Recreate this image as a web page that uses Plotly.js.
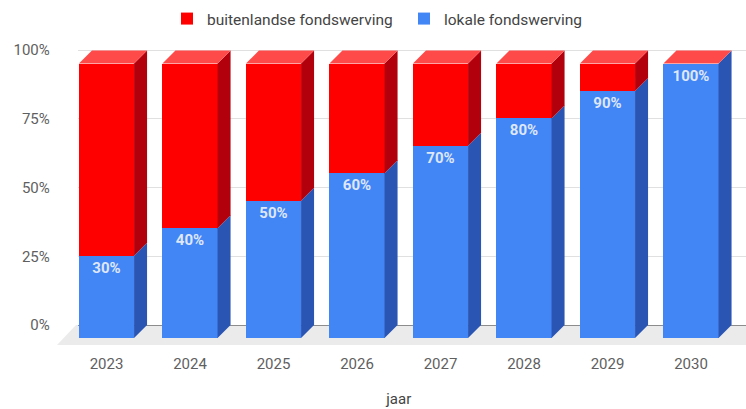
<!DOCTYPE html>
<html>
<head>
<meta charset="utf-8">
<script src="https://cdn.plot.ly/plotly-3.0.1.min.js"></script>
<style>html,body{margin:0;padding:0;background:#fff;}#chart{width:746px;height:409px;}</style>
</head>
<body>
<div id="chart"></div>
<script>
// ---- data ----
const years = ['2023', '2024', '2025', '2026', '2027', '2028', '2029', '2030'];
const lokale = [30, 40, 50, 60, 70, 80, 90, 100];
const buitenlandse = [70, 60, 50, 40, 30, 20, 10, 0];
const yTickVals = [0, 25, 50, 75, 100];
const yTickText = ['0%', '25%', '50%', '75%', '100%'];
const lokaleLabels = lokale.map(v => v + '%');
const seriesNames = ['lokale fondswerving', 'buitenlandse fondswerving'];
const xTitle = 'jaar';

// ---- geometry / style ----
const W = 746, H = 409;
const barW = 0.66;
const depthPx = 13;
const colors = {
  blue: '#4285f4', blueSide: '#2b55b3', red: '#ff0000', redSide: '#b2000c', redTop: '#ff4a4a',
  floor: '#ebebeb', grid: '#e0e0e0', zero: '#8c8c8c', tick: '#5f5f5f'
};
const catPx = 83.5, firstPx = 106.5;
const frontY0 = 338, frontY100 = 63.5;
function yDomain(p0, p100, lo, hi) {
  const s = (p0 - p100) / 100;
  const p = v => p0 - v * s;
  return [(H - p(lo)) / H, (H - p(hi)) / H];
}
function xDomain(shift, lo, hi) {
  const p = v => firstPx + shift + v * catPx;
  return [p(lo) / W, p(hi) / W];
}
const frontYRange = [-3, 105.5];
const backYRange = [-0.5, 100.5];
const xRange = [-0.5, 7.5];
const dxu = depthPx / catPx;
const dyu = depthPx / ((frontY0 - frontY100) / 100);

// ---- traces ----
const traces = [
  // carrier for the back wall axes (grid + tick labels); draws nothing
  {type: 'scatter', mode: 'none', x: [], y: [], xaxis: 'x', yaxis: 'y', showlegend: false, hoverinfo: 'skip'},
  {
    type: 'bar', name: seriesNames[0], x: years, y: lokale, xaxis: 'x2', yaxis: 'y2',
    width: barW, marker: {color: colors.blue, line: {width: 0}},
    text: lokaleLabels, textposition: 'inside', insidetextanchor: 'end', textangle: 0,
    constraintext: 'none', cliponaxis: false,
    textfont: {family: 'Roboto', size: 15, color: '#dfe7fb', weight: 'bold'},
    hoverinfo: 'x+y+name'
  },
  {
    type: 'bar', name: seriesNames[1], x: years, y: buitenlandse, xaxis: 'x2', yaxis: 'y2',
    width: barW, marker: {color: colors.red, line: {width: 0}},
    textposition: 'none', hoverinfo: 'x+y+name'
  }
];

// ---- 3D faces derived from data ----
const shapes = [];
const pp = (x, y) => (x / W).toFixed(5) + ',' + ((H - y) / H).toFixed(5);
shapes.push({
  type: 'path', xref: 'paper', yref: 'paper', layer: 'below', line: {width: 0},
  fillcolor: colors.floor,
  path: 'M' + pp(76, 325) + ' L' + pp(766, 325) + ' L' + pp(746, 345) + ' L' + pp(57, 345) + ' Z'
});
years.forEach((yr, i) => {
  const x1 = i + barW / 2, x0 = i - barW / 2;
  const b = lokale[i], t = lokale[i] + buitenlandse[i];
  const pt = (x, y) => x + ',' + y;
  if (b > 0) shapes.push({
    type: 'path', xref: 'x2', yref: 'y2', layer: 'above', line: {width: 0}, fillcolor: colors.blueSide,
    path: 'M' + pt(x1, 0) + ' L' + pt(x1 + dxu, dyu) + ' L' + pt(x1 + dxu, b + dyu) + ' L' + pt(x1, b) + ' Z'
  });
  if (t > b) shapes.push({
    type: 'path', xref: 'x2', yref: 'y2', layer: 'above', line: {width: 0}, fillcolor: colors.redSide,
    path: 'M' + pt(x1, b) + ' L' + pt(x1 + dxu, b + dyu) + ' L' + pt(x1 + dxu, t + dyu) + ' L' + pt(x1, t) + ' Z'
  });
  shapes.push({
    type: 'path', xref: 'x2', yref: 'y2', layer: 'above', line: {width: 0}, fillcolor: colors.redTop,
    path: 'M' + pt(x0, t) + ' L' + pt(x1, t) + ' L' + pt(x1 + dxu, t + dyu) + ' L' + pt(x0 + dxu, t + dyu) + ' Z'
  });
});

const layout = {
  width: W, height: H, margin: {l: 0, r: 0, t: 0, b: 0},
  paper_bgcolor: '#ffffff', plot_bgcolor: 'rgba(0,0,0,0)',
  font: {family: 'Roboto, sans-serif', color: colors.tick},
  barmode: 'stack', showlegend: true,
  legend: {orientation: 'h', x: 167 / W, xanchor: 'left', y: 1 - 2 / H, yanchor: 'top',
           traceorder: 'reversed', entrywidth: 192, entrywidthmode: 'pixels',
           font: {size: 15.5, color: '#444'}},
  xaxis: {domain: xDomain(depthPx, -0.5, 7.5), range: xRange, visible: false, fixedrange: true},
  yaxis: {domain: yDomain(325, 50, backYRange[0], backYRange[1]), range: backYRange,
          tickvals: yTickVals, ticktext: yTickText, showgrid: true, gridcolor: colors.grid, gridwidth: 1,
          zeroline: true, zerolinecolor: colors.zero, zerolinewidth: 1, showline: false, ticks: '',
          ticklabelstandoff: 27, tickfont: {size: 15, color: colors.tick}, fixedrange: true},
  xaxis2: {domain: xDomain(0, -0.5, 7.5), range: xRange, type: 'category', anchor: 'y2',
           showgrid: false, zeroline: false, showline: false, ticks: '', ticklabelstandoff: 7,
           tickfont: {size: 15, color: colors.tick}, fixedrange: true,
           title: {text: xTitle, font: {size: 15, color: '#444'}, standoff: 21}},
  yaxis2: {domain: yDomain(frontY0, frontY100, frontYRange[0], frontYRange[1]), range: frontYRange,
           anchor: 'x2', visible: false, fixedrange: true},
  shapes: shapes
};

Plotly.newPlot('chart', traces, layout, {displayModeBar: false, staticPlot: true});
</script>
</body>
</html>
